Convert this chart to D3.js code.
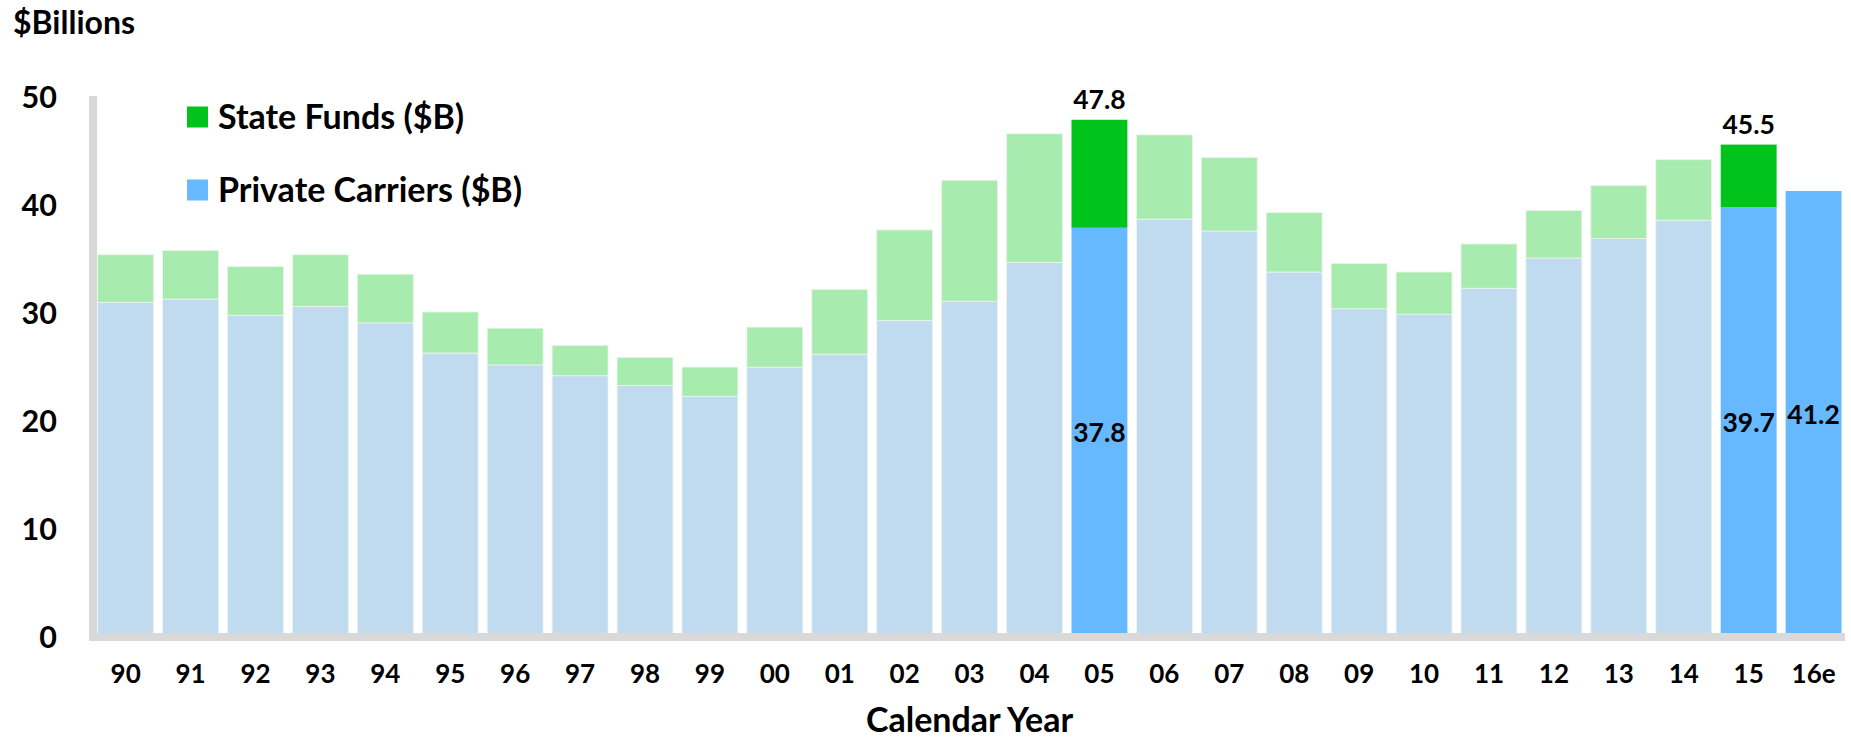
<!DOCTYPE html>
<html>
<head>
<meta charset="utf-8">
<script src="https://cdn.jsdelivr.net/npm/d3@7"></script>
<style>
  html, body { margin: 0; padding: 0; background: #fff; }
  svg { display: block; }
  text { font-family: Lato, "Open Sans", sans-serif; font-weight: 700; fill: #000; }
</style>
</head>
<body>
<svg id="chart" width="1851" height="740"></svg>
<script>
// Calendar years (x categories)
const years = ["90","91","92","93","94","95","96","97","98","99","00","01","02","03","04",
               "05","06","07","08","09","10","11","12","13","14","15","16e"];

// Private carriers' net premiums written, $ billions
const privateCarriers = [30.9, 31.2, 29.7, 30.5, 29.0, 26.2, 25.1, 24.1, 23.2, 22.2, 24.9, 26.1, 29.2, 31.0,
                         34.6, 37.8, 38.6, 37.5, 33.7, 30.3, 29.8, 32.2, 35.0, 36.8, 38.5, 39.7, 41.2];

// State funds' net premiums written, $ billions (stacked on top)
const stateFunds = [4.4, 4.5, 4.5, 4.8, 4.5, 3.8, 3.4, 2.8, 2.6, 2.7, 3.7, 6.0, 8.4, 11.2,
                    11.9, 10.0, 7.8, 6.8, 5.5, 4.2, 3.9, 4.1, 4.4, 4.9, 5.6, 5.8, 0];

// Years shown in full colour, with value labels
const highlightYears = ["05", "15", "16e"];
const totalLabelYears = ["05", "15"];
const privateLabelYears = ["05", "15", "16e"];

// Y axis ticks
const yTicks = [0, 10, 20, 30, 40, 50];

const seriesKeys = ["private", "state"];
const seriesNames = { state: "State Funds ($B)", private: "Private Carriers ($B)" };
const colors = {
  private: { normal: "#C0DBEF", highlight: "#66B8FF" },
  state:   { normal: "#A8EBAE", highlight: "#00C41C" }
};

const rows = years.map((y, i) => ({ year: y, private: privateCarriers[i], state: stateFunds[i] }));

const svg = d3.select("#chart");

const x = d3.scaleBand()
  .domain(years)
  .range([93.2, 1846])
  .paddingInner(0.139)
  .paddingOuter(0.069);

const y = d3.scaleLinear().domain([0, 50]).range([636, 96]);

const stacked = d3.stack().keys(seriesKeys)(rows);

// Bars
const layers = svg.append("g").selectAll("g")
  .data(stacked)
  .join("g");

layers.selectAll("rect")
  .data(d => d.map(p => ({ key: d.key, p })))
  .join("rect")
  .attr("x", d => x(d.p.data.year))
  .attr("width", x.bandwidth())
  .attr("y", d => y(d.p[1]))
  .attr("height", d => Math.max(0, y(d.p[0]) - y(d.p[1])))
  .attr("fill", d => highlightYears.includes(d.p.data.year) ? colors[d.key].highlight : colors[d.key].normal)
  .attr("stroke", d => highlightYears.includes(d.p.data.year) ? "none" : "#EAF5EC")
  .attr("stroke-width", 0.8);

// Axis frame (light grey bands)
svg.append("rect").attr("x", 89).attr("y", y(50)).attr("width", 8).attr("height", 641 - y(50)).attr("fill", "#D9D9D9");
svg.append("rect").attr("x", 93).attr("y", 633).attr("width", 1845 - 93).attr("height", 8).attr("fill", "#D9D9D9");

// Y axis labels
const yAxis = d3.axisLeft(y).tickValues(yTicks).tickSize(0).tickPadding(0);
const yg = svg.append("g").attr("transform", "translate(57,0)").call(yAxis);
yg.select(".domain").remove();
yg.selectAll("text")
  .style("font-family", "Lato, 'Open Sans', sans-serif")
  .style("font-weight", 700)
  .style("font-size", "30.5px")
  .attr("fill", "#000")
  .attr("dy", "0.38em");

// X axis labels
const xAxis = d3.axisBottom(x).tickSize(0).tickPadding(0);
const xg = svg.append("g").attr("transform", "translate(0,665)").call(xAxis);
xg.select(".domain").remove();
xg.selectAll("text")
  .style("font-family", "Lato, 'Open Sans', sans-serif")
  .style("font-weight", 700)
  .style("font-size", "26px")
  .attr("fill", "#000")
  .attr("dy", "0.71em");

// Titles
svg.append("text").attr("x", 13).attr("y", 34).style("font-size", "32px").text("$Billions");
svg.append("text")
  .attr("x", (x(years[0]) + x(years[years.length - 1]) + x.bandwidth()) / 2)
  .attr("y", 732)
  .attr("text-anchor", "middle")
  .style("font-size", "34px")
  .text("Calendar Year");

// Legend
const legendItems = [
  { key: "state", y: 117 },
  { key: "private", y: 190 }
];
const lg = svg.append("g");
lg.selectAll("rect").data(legendItems).join("rect")
  .attr("x", 187).attr("y", d => d.y - 10.5).attr("width", 21).attr("height", 21)
  .attr("fill", d => colors[d.key].highlight);
lg.selectAll("text").data(legendItems).join("text")
  .attr("x", 218).attr("y", d => d.y).attr("dy", "0.36em")
  .style("font-size", "34px")
  .text(d => seriesNames[d.key]);

// Value labels: totals above bars
const fmt = d3.format(".1f");
svg.append("g").selectAll("text")
  .data(rows.filter(r => totalLabelYears.includes(r.year)))
  .join("text")
  .attr("x", d => x(d.year) + x.bandwidth() / 2)
  .attr("y", d => y(d.private + d.state) - 11)
  .attr("text-anchor", "middle")
  .style("font-size", "26.5px")
  .text(d => fmt(d.private + d.state));

// Value labels: private carriers, centred in segment
svg.append("g").selectAll("text")
  .data(rows.filter(r => privateLabelYears.includes(r.year)))
  .join("text")
  .attr("x", d => x(d.year) + x.bandwidth() / 2)
  .attr("y", d => y(d.private / 2))
  .attr("dy", "0.38em")
  .attr("text-anchor", "middle")
  .style("font-size", "26.5px")
  .text(d => fmt(d.private));
</script>
</body>
</html>
